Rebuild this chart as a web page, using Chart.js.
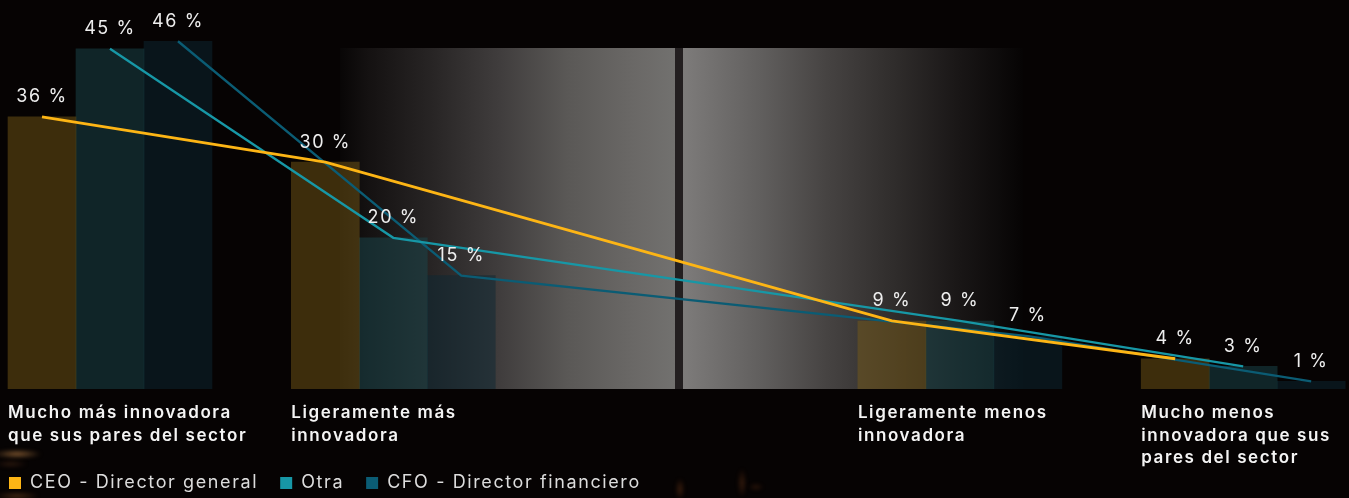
<!DOCTYPE html>
<html lang="es">
<head>
<meta charset="utf-8">
<title>Innovación frente a los pares del sector</title>
<script src="https://cdn.jsdelivr.net/npm/chart.js@4.4.1/dist/chart.umd.min.js"></script>
<style>
  html, body { margin: 0; padding: 0; background: #060303; overflow: hidden; }
  #wrap { position: relative; width: 1349px; height: 498px; }
  #wrap canvas { position: absolute; left: 0; top: 0; }
  .bg { position: absolute; }
  /* foto de fondo: panel gris con el poste oscuro */
  .photo {
    left: 340px; top: 48px; width: 683px; height: 341px;
    background: linear-gradient(to right,
      rgb(8,6,6) 0px, rgb(20,17,17) 27px, rgb(40,37,37) 93px, rgb(64,61,61) 160px,
      rgb(90,88,86) 227px, rgb(106,104,102) 293px, rgb(114,113,111) 335px,
      rgb(125,123,122) 344px, rgb(97,95,94) 420px, rgb(70,67,66) 487px,
      rgb(48,45,44) 553px, rgb(25,22,22) 620px, rgb(6,4,4) 683px);
  }
  .post { left: 675px; top: 48px; width: 8px; height: 341px; background: #231f20; }
  .spark { border-radius: 50%; filter: blur(2px); }
</style>
</head>
<body>
<div id="wrap">
  <div class="bg photo"></div>
  <div class="bg post"></div>
  <div class="bg spark" style="left:-8px;top:450px;width:50px;height:8px;background:radial-gradient(ellipse at center, rgba(175,120,65,.85), rgba(175,120,65,0) 70%)"></div>
  <div class="bg spark" style="left:-6px;top:461px;width:34px;height:6px;background:radial-gradient(ellipse at center, rgba(110,60,30,.5), rgba(110,60,30,0) 70%)"></div>
  <div class="bg spark" style="left:-6px;top:492px;width:46px;height:8px;background:radial-gradient(ellipse at center, rgba(150,90,40,.5), rgba(150,90,40,0) 70%)"></div>
  <div class="bg spark" style="left:676px;top:478px;width:8px;height:22px;background:radial-gradient(ellipse at center, rgba(150,75,30,.45), rgba(150,75,30,0) 70%)"></div>
  <div class="bg spark" style="left:738px;top:468px;width:8px;height:30px;background:radial-gradient(ellipse at center, rgba(150,75,30,.4), rgba(150,75,30,0) 70%)"></div>
  <div class="bg spark" style="left:748px;top:484px;width:16px;height:6px;background:radial-gradient(ellipse at center, rgba(150,75,30,.35), rgba(150,75,30,0) 70%)"></div>
  <canvas id="chart" width="1349" height="498"></canvas>
</div>
<script>
// categorías del eje x (el hueco central no tiene respuestas)
const categories = [
  ['Mucho más innovadora', 'que sus pares del sector'],
  ['Ligeramente más', 'innovadora'],
  '',
  ['Ligeramente menos', 'innovadora'],
  ['Mucho menos', 'innovadora que sus', 'pares del sector']
];
const seriesNames = ['CEO - Director general', 'Otra', 'CFO - Director financiero'];
const ceo = [36, 30, null, 9, 4];
const otra = [45, 20, null, 9, 3];
const cfo = [46, 15, null, 7, 1];

const lineColors = ['#fdb515', '#1797a6', '#0b5c74'];
const barColors = ['rgba(122,92,24,0.48)', 'rgba(26,72,78,0.5)', 'rgba(12,40,52,0.5)'];

// geometría del eje x: cada categoría ocupa CAT_PX y las barras arrancan en su borde izquierdo.
// El área del gráfico empieza en x = 0; el relleno negativo sólo acerca la leyenda al borde.
const CAT_PX = 283.3;
const FIRST_PX = 8;
const WIDTH = 1349;
const LEGEND_PAD_LEFT = -13;
const SLOT = 0.24;

function points(values, k) {
  return values
    .map((v, i) => v === null ? null : { x: i + (k + 0.5) * SLOT, y: v })
    .filter(Boolean);
}

const series = [ceo, otra, cfo];
const lineSets = series.map((values, k) => ({
  type: 'line',
  label: seriesNames[k],
  data: points(values, k),
  borderColor: lineColors[k],
  backgroundColor: lineColors[k],
  borderWidth: k === 0 ? 2.8 : 2.3,
  pointRadius: 0,
  order: 1
}));
const barSets = series.map((values, k) => ({
  type: 'bar',
  label: seriesNames[k],
  data: points(values, k),
  backgroundColor: barColors[k],
  grouped: false,
  barPercentage: 1,
  categoryPercentage: 1,
  order: 2
}));

// espaciado entre letras para todo el texto del lienzo
const tracking = {
  id: 'tracking',
  beforeUpdate(chart) { chart.ctx.letterSpacing = '1.6px'; },
  beforeDraw(chart) { chart.ctx.letterSpacing = '1.6px'; }
};

// la tercera línea de etiquetas baja hasta la leyenda: no recortarla
const labelRoom = {
  id: 'labelRoom',
  afterLayout(chart) { chart.scales.x.bottom = chart.height; }
};

// porcentaje encima de cada barra
const valueLabels = {
  id: 'valueLabels',
  afterDatasetsDraw(chart) {
    const ctx = chart.ctx;
    ctx.save();
    ctx.font = '400 18px Inter';
    ctx.fillStyle = '#eeeeee';
    ctx.textAlign = 'center';
    ctx.textBaseline = 'middle';
    chart.data.datasets.forEach((ds, i) => {
      if (ds.type !== 'bar') return;
      chart.getDatasetMeta(i).data.forEach((bar, j) => {
        ctx.fillText(ds.data[j].y + ' %', bar.x, bar.y - 20);
      });
    });
    ctx.restore();
  }
};

new Chart(document.getElementById('chart'), {
  type: 'bar',
  data: { datasets: [...lineSets, ...barSets] },
  options: {
    responsive: false,
    animation: false,
    events: [],
    layout: { padding: { left: LEGEND_PAD_LEFT, right: 0, top: 11, bottom: -4 } },
    scales: {
      x: {
        type: 'linear',
        offset: false,
        bounds: 'data',
        min: -FIRST_PX / CAT_PX,
        max: (WIDTH - FIRST_PX) / CAT_PX,
        grid: { display: false, drawTicks: false },
        border: { display: false },
        afterBuildTicks: axis => { axis.ticks = categories.map((c, i) => ({ value: i })); },
        afterFit: axis => {
          axis.height = 63;
          axis.paddingLeft = 0;
          axis.paddingRight = 0;
        },
        ticks: {
          align: 'start',
          padding: 13,
          autoSkip: false,
          maxRotation: 0,
          minRotation: 0,
          color: '#f4f4f4',
          font: { family: 'Inter', size: 17, weight: '600', lineHeight: 1.32 },
          callback: value => categories[value]
        }
      },
      y: { display: false, min: 0, max: 50 }
    },
    plugins: {
      legend: {
        position: 'bottom',
        align: 'start',
        labels: {
          boxWidth: 12,
          boxHeight: 12,
          padding: 22,
          color: '#dcdcdc',
          font: { family: 'Inter', size: 18 },
          generateLabels: chart => Chart.defaults.plugins.legend.labels.generateLabels(chart)
            .filter(item => chart.data.datasets[item.datasetIndex].type === 'line')
            .map(item => ({ ...item, fillStyle: item.strokeStyle, lineWidth: 0 }))
        }
      },
      tooltip: { enabled: false }
    }
  },
  plugins: [tracking, labelRoom, valueLabels]
});
</script>
</body>
</html>
